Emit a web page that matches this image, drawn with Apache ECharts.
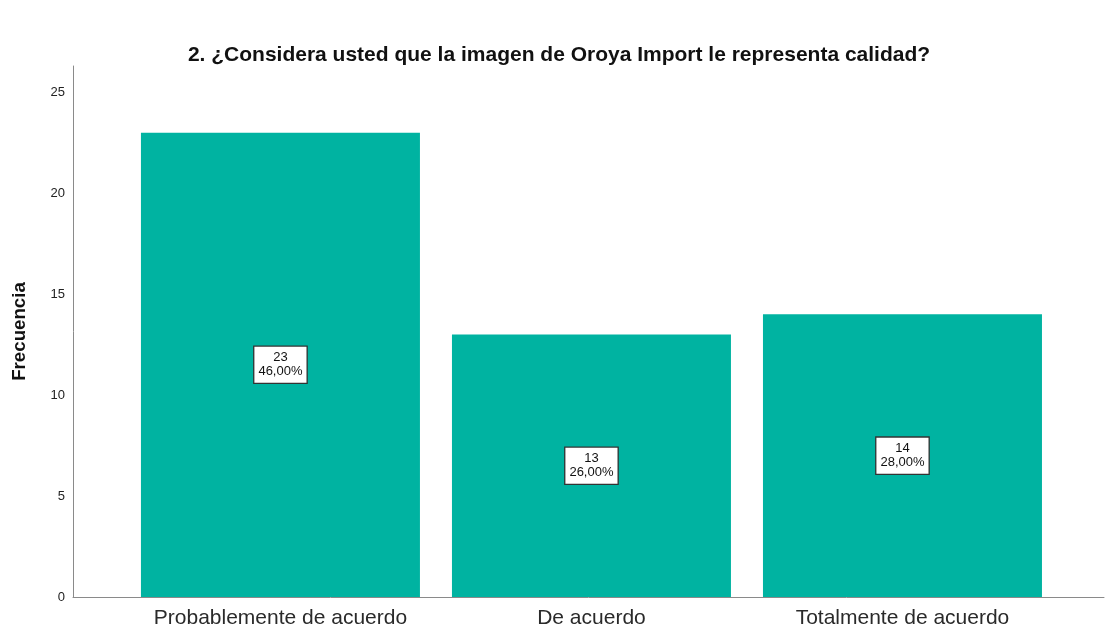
<!DOCTYPE html>
<html>
<head>
<meta charset="utf-8">
<script src="https://cdn.jsdelivr.net/npm/echarts@6/dist/echarts.min.js"></script>
<style>
html,body{margin:0;padding:0;background:#fff;}
#c{width:1105px;height:629px;}
</style>
</head>
<body>
<div id="c"></div>
<script>
const titleText = '2. ¿Considera usted que la imagen de Oroya Import le representa calidad?';
const categories = ['Probablemente de acuerdo', 'De acuerdo', 'Totalmente de acuerdo'];
const frequencies = [23, 13, 14];
const percents = ['46,00%', '26,00%', '28,00%'];
const yTicks = [0, 5, 10, 15, 20, 25];

const chart = echarts.init(document.getElementById('c'), null, {renderer: 'canvas'});
const font = '"Liberation Sans", Arial, sans-serif';
const positions = categories.map((c, i) => i);

chart.setOption({
  animation: false,
  backgroundColor: '#ffffff',
  title: {
    text: titleText,
    left: 554, top: 40, textAlign: 'center',
    textStyle: {fontFamily: font, fontSize: 21, fontWeight: 'bold', color: '#111'}
  },
  grid: {left: 73, right: 1, top: 66, bottom: 31, containLabel: false},
  xAxis: {
    type: 'value',
    min: -0.667, max: 2.648,
    splitLine: {show: false},
    axisLine: {show: true, onZero: false, lineStyle: {color: '#8a8a8a', width: 1}},
    axisTick: {show: false},
    axisLabel: {
      customValues: positions,
      formatter: v => categories[Math.round(v)] || '',
      fontFamily: font, fontSize: 21, color: '#2a2a2a', margin: 11
    }
  },
  yAxis: {
    type: 'value',
    min: 0, max: 26.3, interval: 5,
    name: 'Frecuencia', nameLocation: 'middle', nameGap: 44, nameRotate: 90,
    nameTextStyle: {fontFamily: font, fontSize: 18.7, fontWeight: 'bold', color: '#111'},
    splitLine: {show: false},
    axisLine: {show: true, onZero: false, lineStyle: {color: '#8a8a8a', width: 1}},
    axisTick: {show: false},
    axisLabel: {
      customValues: yTicks,
      fontFamily: font, fontSize: 13, color: '#222', margin: 8
    }
  },
  series: [{
    type: 'bar',
    barWidth: 279,
    itemStyle: {color: '#00B3A1'},
    data: frequencies.map((v, i) => [positions[i], v]),
    label: {
      show: true,
      position: 'inside',
      formatter: p => frequencies[p.dataIndex] + '\n' + percents[p.dataIndex],
      fontFamily: font, fontSize: 13, color: '#111', lineHeight: 14,
      backgroundColor: '#ffffff', borderColor: '#333', borderWidth: 1.3,
      padding: [4, 4, 4, 4], align: 'center'
    }
  }]
});
</script>
</body>
</html>
